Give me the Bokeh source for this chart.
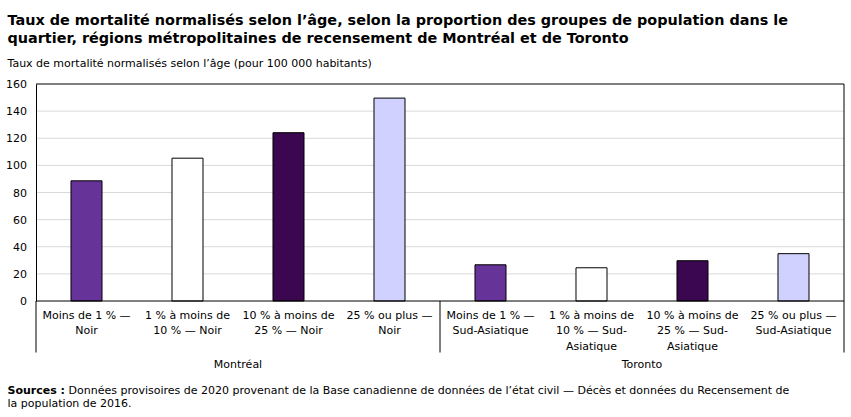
from bokeh.plotting import figure
from bokeh.models import Range1d, FixedTicker, ColumnDataSource
from bokeh.core.properties import value
from bokeh.embed import file_html
from bokeh.resources import INLINE

# Age-standardized mortality rates (per 100,000) by neighbourhood share of population group
cities = ["Montréal", "Toronto"]
montreal_labels = ["Moins de 1 % —\nNoir", "1 % à moins de\n10 % — Noir",
                   "10 % à moins de\n25 % — Noir", "25 % ou plus —\nNoir"]
toronto_labels = ["Moins de 1 % —\nSud-Asiatique", "1 % à moins de\n10 % — Sud-\nAsiatique",
                  "10 % à moins de\n25 % — Sud-\nAsiatique", "25 % ou plus —\nSud-Asiatique"]
montreal_rates = [88.6, 105.3, 124.1, 149.6]
toronto_rates = [26.7, 24.5, 29.7, 34.9]
y_ticks = [0, 20, 40, 60, 80, 100, 120, 140, 160]

title_lines = ["Taux de mortalité normalisés selon l’âge, selon la proportion des groupes de population dans le",
               "quartier, régions métropolitaines de recensement de Montréal et de Toronto"]
y_caption = "Taux de mortalité normalisés selon l’âge (pour 100 000 habitants)"
source_head = "Sources :"
source_lines = ["Données provisoires de 2020 provenant de la Base canadienne de données de l’état civil — Décès et données du Recensement de",
                "la population de 2016."]

group_colors = ["#663399", "#ffffff", "#3a0750", "#d0d1ff"]

labels = montreal_labels + toronto_labels
rates = montreal_rates + toronto_rates
n = len(rates)
xs = [i + 0.5 for i in range(n)]
colors = group_colors * len(cities)

FONT = "DejaVu Sans"

# canvas geometry: category axis spans 8 units, value axis 0..160
W, H = 851, 417
X0_PX, UNIT_X = 35.5, 101.0
Y0_PX, UNIT_Y = 300.5, 217.0 / 160.0


def data_x(px):
    return (px - X0_PX) / UNIT_X


def data_y(py):
    return (Y0_PX - py) / UNIT_Y


p = figure(width=W, height=H, output_backend="svg", toolbar_location=None,
           x_range=Range1d(data_x(0), data_x(W)), y_range=Range1d(data_y(H), data_y(0)),
           min_border=0, x_axis_location=None, outline_line_color=None)
p.background_fill_color = "white"
p.border_fill_color = "white"

# value axis, pinned at the left edge of the bar area
yax = p.yaxis[0]
yax.fixed_location = 0
yax.ticker = FixedTicker(ticks=y_ticks)
yax.bounds = (0, 160)
yax.axis_line_color = "black"
yax.major_tick_line_color = None
yax.minor_tick_line_color = None
yax.major_tick_out = 0
yax.major_tick_in = 0
yax.major_label_standoff = 9
yax.major_label_text_font = FONT
yax.major_label_text_font_size = "11px"
yax.major_label_text_color = "#000000"
p.xgrid.visible = False
p.ygrid.visible = False

# horizontal gridlines across the bar area only
grid_y = [t for t in y_ticks if 0 < t < 160]
p.segment(x0=[0] * len(grid_y), y0=grid_y, x1=[n] * len(grid_y), y1=grid_y,
          line_color="#d9d9d9", line_width=1)

src = ColumnDataSource(dict(x=xs, top=rates, color=colors, label=labels))
p.vbar(x="x", top="top", bottom=0, width=0.307, fill_color="color",
       line_color="black", line_width=1, source=src)

# frame lines and group separators
sep_bottom = data_y(352)
p.segment(x0=[0, 0, 0, n / 2, n], y0=[160, 0, sep_bottom, sep_bottom, sep_bottom],
          x1=[n, n, 0, n / 2, n], y1=[160, 0, 0, 0, 160],
          line_color="black", line_width=1)

# category labels
p.text(x="x", y=data_y(308), text="label", source=src, text_align="center", text_baseline="top",
       text_font=value(FONT), text_font_size="11px", text_color="#000000",
       text_line_height=1.2)

# city labels
p.text(x=[n / 4, 3 * n / 4], y=[data_y(364)] * 2, text=cities, text_align="center",
       text_baseline="middle", text_font=value(FONT), text_font_size="11px",
       text_color="#000000")

# title
p.text(x=[data_x(7)] * 2, y=[data_y(19.5), data_y(37.5)], text=title_lines,
       text_baseline="alphabetic", text_font=value(FONT), text_font_style="bold",
       text_font_size="14.4px", text_color="#000000")

# value axis caption
p.text(x=[data_x(7)], y=[data_y(63)], text=[y_caption], text_baseline="middle",
       text_font=value(FONT), text_font_size="11px", text_color="#000000")

# sources note
p.text(x=[data_x(7)], y=[data_y(390)], text=[source_head], text_baseline="middle",
       text_font=value(FONT), text_font_style="bold", text_font_size="11px",
       text_color="#000000")
p.text(x=[data_x(68), data_x(7)], y=[data_y(390), data_y(403)], text=source_lines,
       text_baseline="middle", text_font=value(FONT), text_font_size="11px",
       text_color="#000000")

open("out.html", "w").write(file_html(p, INLINE))
